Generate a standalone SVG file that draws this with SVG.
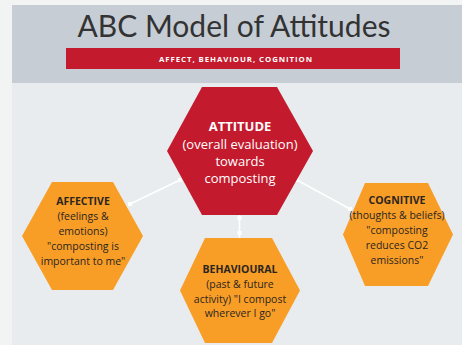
<svg xmlns="http://www.w3.org/2000/svg" width="462" height="345" viewBox="0 0 462 345">
<style>
.hexr{fill:#c31a2d}
.hexo{fill:#f89e27}
.t{font-family:"Open Sans","Liberation Sans",sans-serif;text-anchor:middle}
.tw{fill:#ffffff;font-size:13px}
.td{fill:#2b2520;font-size:10.5px}
.b{font-weight:bold}
.conn line{stroke:#ffffff;stroke-width:1.5}
.conn rect{fill:#ffffff}
</style>
<rect x="0" y="0" width="462" height="345" fill="#f2f3f3"/>
<rect x="12" y="5" width="450" height="340" fill="#e9ecee"/>
<g id="header">
<rect x="12" y="5" width="450" height="78" fill="#c6cdd5"/>
<text x="234" y="37" font-family="Lato,'Liberation Sans',sans-serif" font-size="30" fill="#333333" text-anchor="middle">ABC Model of Attitudes</text>
<rect x="66" y="48" width="334" height="21" fill="#c31a2d"/>
<text x="236" y="61.5" font-family="'Open Sans','Liberation Sans',sans-serif" font-size="7.8" font-weight="bold" fill="#ffffff" text-anchor="middle" letter-spacing="0.95">AFFECT, BEHAVIOUR, COGNITION</text>
</g>
<g class="conn" id="connectors">
<line x1="130" y1="204" x2="180" y2="180"/>
<rect x="128" y="202" width="4" height="4"/>
<rect x="178" y="178" width="4" height="4"/>
<line x1="297" y1="180" x2="350" y2="209"/>
<rect x="295" y="178" width="4" height="4"/>
<rect x="348" y="207" width="4" height="4"/>
<line x1="239.5" y1="215" x2="239.5" y2="238"/>
<rect x="237.5" y="216" width="4" height="4"/>
<rect x="237.5" y="231" width="4" height="4"/>
</g>
<g id="attitude">
<polygon class="hexr" points="202,87 277,87 313,151 277,215 202,215 167,151"/>
<text class="t tw b" x="240" y="131">ATTITUDE</text>
<text class="t tw" x="240" y="148.5">(overall evaluation)</text>
<text class="t tw" x="240" y="165.5">towards</text>
<text class="t tw" x="240" y="182.5">composting</text>
</g>
<g id="affective">
<polygon class="hexo" points="52,182 113,182 143,236 113,290 52,290 22,236"/>
<text class="t td b" x="83" y="205">AFFECTIVE</text>
<text class="t td" x="83" y="220">(feelings &amp;</text>
<text class="t td" x="83" y="235">emotions)</text>
<text class="t td" x="83" y="250">"composting is</text>
<text class="t td" x="83" y="265">important to me"</text>
</g>
<g id="behavioural">
<polygon class="hexo" points="205,238 272,238 300,290.5 272,343 205,343 180,290.5"/>
<text class="t td b" x="240" y="273">BEHAVIOURAL</text>
<text class="t td" x="240" y="288">(past &amp; future</text>
<text class="t td" x="240" y="303">activity) "I compost</text>
<text class="t td" x="240" y="317">wherever I go"</text>
</g>
<g id="cognitive">
<polygon class="hexo" points="365,183 428,183 453,234.5 428,286 365,286 343,234.5"/>
<text class="t td b" x="397" y="204">COGNITIVE</text>
<text class="t td" x="397" y="219">(thoughts &amp; beliefs)</text>
<text class="t td" x="397" y="234">"composting</text>
<text class="t td" x="397" y="249">reduces CO2</text>
<text class="t td" x="397" y="264">emissions"</text>
</g>
</svg>
